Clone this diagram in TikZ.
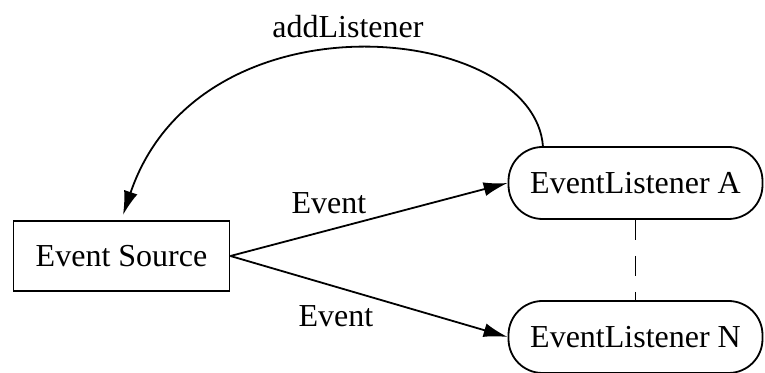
\documentclass[tikz,border=0pt]{standalone}
\usepackage{fontspec}
\setmainfont{Liberation Serif}
\usepackage{tikz}
\usetikzlibrary{arrows.meta, positioning}
\tikzset{
    source/.style  ={rectangle, minimum width=108pt, minimum height=35pt, text centered, draw=black, line width=0.9pt},
    listener/.style={rectangle, rounded corners=17pt, minimum width=127pt, minimum height=36pt, text centered, draw=black, line width=0.9pt},
    callarrow/.style={-{Latex[length=12pt, width=7pt]}, line width=0.9pt},
}

\begin{document}
\begin{tikzpicture}[x=0.5pt, y=0.5pt, every node/.style={font=\fontsize{16}{19}\selectfont}]
        \useasboundingbox (0,0) rectangle (765,373);
        \node[source] (src) at (121.5,117) {Event Source};
        \node[listener] (lisA) at (635.5,190) {EventListener A};
        \node[listener] (lisN) at (635.5,36) {EventListener N};
        \node (evA) at (329,170) {Event};
        \node (evN) at (336,57) {Event};
        \node (add) at (348,346) {addListener};

        \draw[callarrow] (src.east) -- (lisA.west);
        \draw[callarrow] (src.east) -- (lisN.west);
        \draw[dash pattern=on 10pt off 8pt, line width=0.9pt] (lisA) -- (lisN);
        \draw[callarrow] (543,226) .. controls (535,350) and (200,385) .. (123,158);
    \end{tikzpicture}
\end{document}
